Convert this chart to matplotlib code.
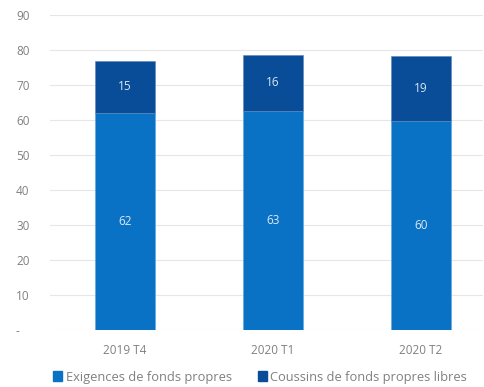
import matplotlib
matplotlib.use("Agg")
import matplotlib.pyplot as plt
from matplotlib.patches import Patch

categories = ["2019 T4", "2020 T1", "2020 T2"]
exigences = [62.1, 62.7, 59.6]
coussins = [14.8, 15.9, 18.6]
yticks = [0, 10, 20, 30, 40, 50, 60, 70, 80, 90]
ytick_labels = ["-", "10", "20", "30", "40", "50", "60", "70", "80", "90"]

c_bottom = "#0A72C4"
c_top = "#094C98"

plt.rcParams['font.family'] = ['Open Sans', 'DejaVu Sans']

fig = plt.figure(figsize=(4.84, 3.87), dpi=100)
ax = fig.add_axes([50/484, 1-330/387, 433/484, 315/387])

x = list(range(len(categories)))
w = 0.405
ax.bar(x, exigences, width=w, color=c_bottom, zorder=3, edgecolor="#5aa6e0", linewidth=0.4)
ax.bar(x, coussins, bottom=exigences, width=w, color=c_top, zorder=3, edgecolor="#5a86c0", linewidth=0.4)

for i in x:
    ax.text(i, exigences[i]/2, f"{exigences[i]:.0f}", ha="center", va="center",
            color="#dce8f5", fontsize=8.5, zorder=4)
    ax.text(i, exigences[i] + coussins[i]/2, f"{coussins[i]:.0f}", ha="center", va="center",
            color="#dce8f5", fontsize=8.5, zorder=4)

ax.set_ylim(0, 90)
ax.set_xlim(-0.507, 2.42)
ax.set_yticks(yticks)
ax.set_yticklabels(ytick_labels)
ax.set_xticks(x)
ax.set_xticklabels(categories)
ax.tick_params(axis="both", length=0, colors="#808080", labelsize=8.5)
ax.tick_params(axis="x", pad=10)
for lab in ax.get_yticklabels():
    lab.set_horizontalalignment("left")
    lab.set_x(-0.0785)
ax.tick_params(axis="y", pad=0)
ax.grid(axis="y", color="#e6e6e6", linewidth=0.8, zorder=0)
for s in ax.spines.values():
    s.set_visible(False)

handles = [Patch(color=c_bottom, label="Exigences de fonds propres"),
           Patch(color=c_top, label="Coussins de fonds propres libres")]
fig.legend(handles=handles, loc="center", bbox_to_anchor=(260/484, 1-377/387),
           ncol=2, frameon=False, fontsize=9.3, handlelength=0.7, handleheight=0.7,
           handletextpad=0.3, columnspacing=2.0, labelcolor="#808080")

fig.savefig("out.png", dpi=100)
